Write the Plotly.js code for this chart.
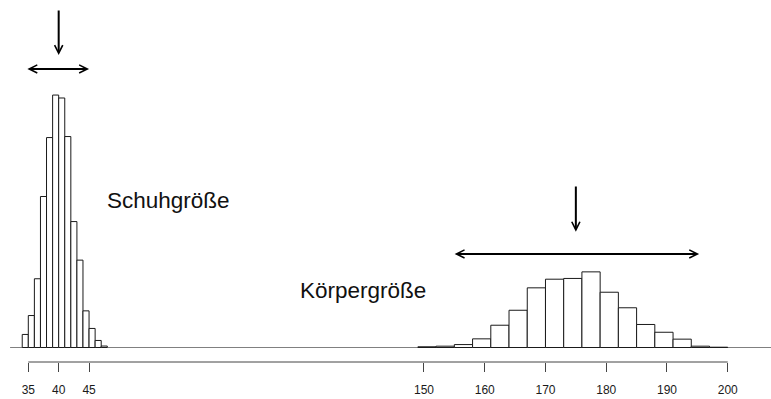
<!DOCTYPE html>
<html>
<head>
<meta charset="utf-8">
<script src="https://cdn.plot.ly/plotly-3.0.1.min.js"></script>
<style>html,body{margin:0;padding:0;background:#fff}#chart{width:771px;height:399px}</style>
</head>
<body>
<div id="chart"></div>
<script>
// ---- data (density histograms) ----
const shoeBinStarts = [34,35,36,37,38,39,40,41,42,43,44,45,46,47];
const shoeBinWidth = 1;
const shoeDensity = [0.0089,0.0218,0.0469,0.1030,0.1432,0.1722,0.1702,0.1439,0.0859,0.0596,0.0250,0.0130,0.0048,0.0010];

const heightBinStarts = [149,152,155,158,161,164,167,170,173,176,179,182,185,188,191,194,197];
const heightBinWidth = 3;
const heightDensity = [0.0005,0.0009,0.0020,0.0059,0.0152,0.0254,0.0407,0.0466,0.0471,0.0516,0.0377,0.0271,0.0157,0.0104,0.0057,0.0009,0.0002];

const shoeTicks = [35,40,45];
const heightTicks = [150,160,170,180,190,200];

const shoeMean = 40, shoeSpan = [34.6, 45.0];
const heightMean = 175, heightSpan = [154.8, 195.3];
const shoeArrowY = [0.2309, 0.1995], shoeSpanY = 0.190;
const heightArrowY = [0.1108, 0.0790], heightSpanY = 0.0638;
const baselineStart = 32;

const labels = [
  {text:'Schuhgröße', axis:'x', x:47.7, y:0.1000},
  {text:'Körpergröße', axis:'x2', x:129.3, y:0.0390}
];

// ---- scales ----
const W = 771, H = 399;
const pxPerUnit = 6.075;
const xRange = [30.34, 30.34 + W / pxPerUnit];
const x2Range = [80.21, 80.21 + W / pxPerUnit];
const axisOffset = x2Range[0] - xRange[0];
const yRange = [-0.00989, 0.23704];

const shoeX = shoeBinStarts.map(s => s + shoeBinWidth/2);
const heightX = heightBinStarts.map(s => s + heightBinWidth/2);

const barStyle = {color:'#ffffff', line:{color:'#1a1a1a', width:1}};
const traces = [
  {type:'bar', x:shoeX, y:shoeDensity, width:shoeX.map(()=>shoeBinWidth), marker:barStyle, xaxis:'x', yaxis:'y', hoverinfo:'skip'},
  {type:'bar', x:heightX, y:heightDensity, width:heightX.map(()=>heightBinWidth), marker:barStyle, xaxis:'x2', yaxis:'y', hoverinfo:'skip'}
];

const axisColor = '#444';
const tickFont = {family:'Liberation Sans, Arial, sans-serif', size:12, color:'#1a1a1a'};
const xCommon = {showgrid:false, zeroline:false, showline:false, ticks:'outside', ticklen:9, tickwidth:1,
  tickcolor:axisColor, tickfont:tickFont, ticklabelstandoff:8, fixedrange:true};

const arrowCommon = {text:'', showarrow:true, arrowwidth:2, arrowcolor:'#000', arrowsize:0.8,
  arrowhead:5, startarrowhead:5, startarrowsize:0.8, standoff:0, startstandoff:0, yref:'y', ayref:'y'};

const annotations = [
  Object.assign({}, arrowCommon, {xref:'x', axref:'x', x:shoeMean, ax:shoeMean, y:shoeArrowY[1], ay:shoeArrowY[0], arrowside:'end'}),
  Object.assign({}, arrowCommon, {xref:'x', axref:'x', x:shoeSpan[1], ax:shoeSpan[0], y:shoeSpanY, ay:shoeSpanY, arrowside:'end+start'}),
  Object.assign({}, arrowCommon, {xref:'x2', axref:'x2', x:heightMean, ax:heightMean, y:heightArrowY[1], ay:heightArrowY[0], arrowside:'end'}),
  Object.assign({}, arrowCommon, {xref:'x2', axref:'x2', x:heightSpan[1], ax:heightSpan[0], y:heightSpanY, ay:heightSpanY, arrowside:'end+start'})
];
labels.forEach(l => annotations.push({text:l.text, showarrow:false, xref:l.axis, yref:'y', x:l.x, y:l.y,
  xanchor:'left', yanchor:'middle', font:{family:'Liberation Sans, Arial, sans-serif', size:22.5, color:'#111'}}));

const shapes = [
  // gray baseline
  {type:'line', xref:'x', yref:'y', x0:baselineStart, x1:xRange[1], y0:0, y1:0, line:{color:'#808080', width:1.2}, layer:'below'},
  // axis line from first to last tick
  {type:'line', xref:'x', yref:'paper', x0:shoeTicks[0], x1:shoeTicks[shoeTicks.length-1], y0:0, y1:0, line:{color:axisColor, width:1}},
  {type:'line', xref:'x2', yref:'paper', x0:shoeTicks[shoeTicks.length-1] + axisOffset, x1:heightTicks[heightTicks.length-1], y0:0, y1:0, line:{color:axisColor, width:1}}
];

const layout = {
  width:W, height:H, paper_bgcolor:'#fff', plot_bgcolor:'#fff',
  margin:{l:0, r:0, t:0, b:37, pad:0},
  showlegend:false, barmode:'overlay', bargap:0,
  xaxis:Object.assign({}, xCommon, {range:xRange, tickvals:shoeTicks, ticktext:shoeTicks.map(String), anchor:'y'}),
  xaxis2:Object.assign({}, xCommon, {range:x2Range, tickvals:heightTicks, ticktext:heightTicks.map(String), overlaying:'x', side:'bottom', anchor:'y'}),
  yaxis:{range:yRange, visible:false, fixedrange:true},
  annotations:annotations, shapes:shapes
};

Plotly.newPlot('chart', traces, layout, {displayModeBar:false, staticPlot:true});
</script>
</body>
</html>
